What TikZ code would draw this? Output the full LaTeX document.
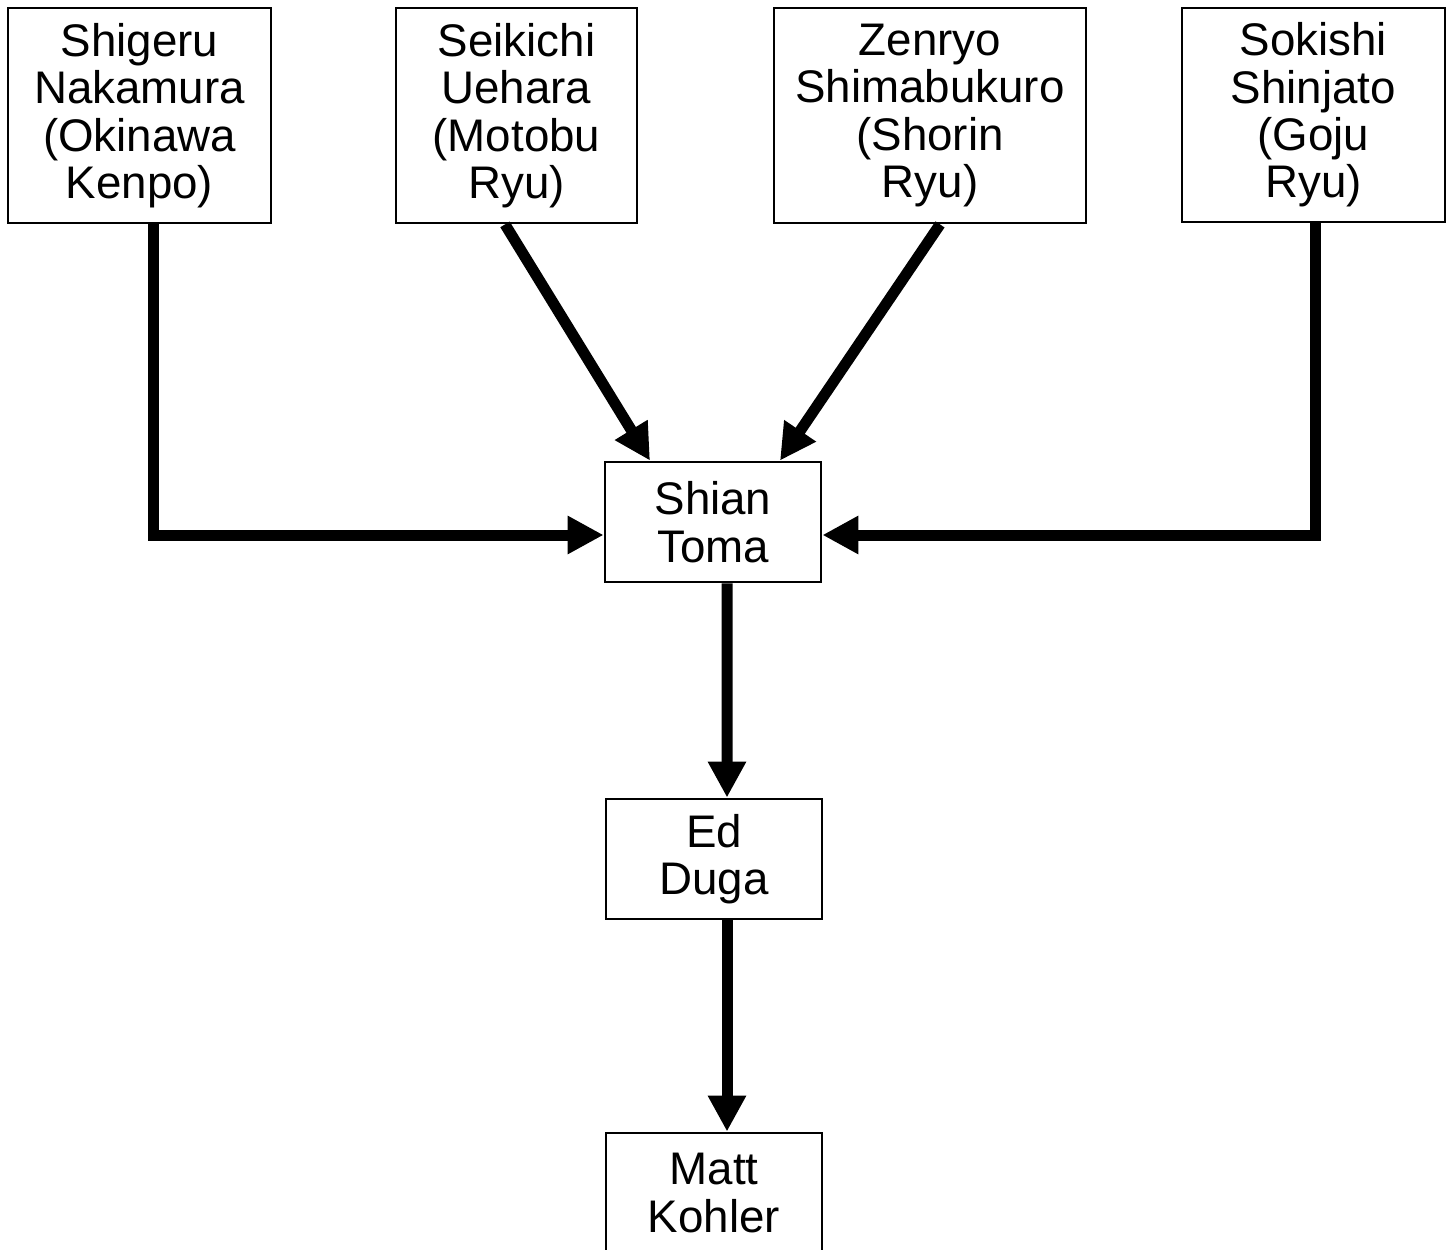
\documentclass[tikz,border=0pt]{standalone}
\usepackage{fontspec}
\setmainfont{Liberation Sans}
\usetikzlibrary{arrows.meta}

\begin{document}
\begin{tikzpicture}[>={Triangle[length=0.36cm,width=0.36cm]},every node/.style={font=\fontsize{13}{13.5}\selectfont,align=center}]
\tikzset{person/.style={draw, line width=0.8pt, inner sep=0pt},
         link/.style={->, line width=0.11cm}}
\useasboundingbox (0,0) rectangle (14.54,-12.50);
\node[person, minimum width=2.63cm, minimum height=2.15cm] (nakamura) at (1.395,-1.155) {Shigeru\\Nakamura\\(Okinawa\\Kenpo)};
\node[person, minimum width=2.41cm, minimum height=2.15cm] (uehara) at (5.165,-1.155) {Seikichi\\Uehara\\(Motobu\\Ryu)};
\node[person, minimum width=3.12cm, minimum height=2.15cm] (shimabukuro) at (9.30,-1.155) {Zenryo\\Shimabukuro\\(Shorin\\Ryu)};
\node[person, minimum width=2.63cm, minimum height=2.14cm] (shinjato) at (13.135,-1.15) {Sokishi\\Shinjato\\(Goju\\Ryu)};
\node[person, minimum width=2.16cm, minimum height=1.20cm] (toma) at (7.13,-5.22) {Shian\\Toma};
\node[person, minimum width=2.16cm, minimum height=1.20cm] (duga) at (7.14,-8.59) {Ed\\Duga};
\node[person, minimum width=2.16cm, minimum height=1.20cm] (kohler) at (7.14,-11.93) {Matt\\Kohler};
\draw[link] ([xshift=0.135cm]nakamura.south) |- ([yshift=-0.13cm]toma.west);
\draw[link] ([xshift=0.02cm]shinjato.south) |- ([yshift=-0.13cm]toma.east);
\draw[link] ([xshift=-0.115cm]uehara.south) -- ([xshift=-0.63cm]toma.north);
\draw[link] ([xshift=0.10cm]shimabukuro.south) -- ([xshift=0.67cm]toma.north);
\draw[link] ([xshift=0.14cm]toma.south) -- ([xshift=0.13cm]duga.north);
\draw[link] ([xshift=0.13cm]duga.south) -- ([xshift=0.13cm]kohler.north);
\end{tikzpicture}
\end{document}
